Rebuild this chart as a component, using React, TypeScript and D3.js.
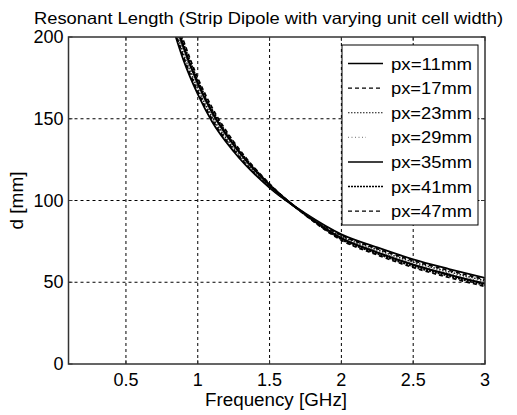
import React from "react";
import * as d3 from "d3";

const title = "Resonant Length (Strip Dipole with varying unit cell width)";
const xLabel = "Frequency [GHz]";
const yLabel = "d [mm]";
const xTicks = [0.5, 1, 1.5, 2, 2.5, 3];
const yTicks = [0, 50, 100, 150, 200];
const freq = [0.8, 0.9, 1.0, 1.1, 1.25, 1.5, 1.75, 2.0, 2.25, 2.5, 2.75, 3.0];
const seriesNames = ["px=11mm", "px=17mm", "px=23mm", "px=29mm", "px=35mm", "px=41mm", "px=47mm"];
const px11 = [213.5, 186, 165, 148.2, 130, 107.8, 92, 79.3, 71.3, 64, 58.1, 52.6];
const px17 = [215.7, 188, 166.7, 149.6, 131, 108.2, 91.8, 78.7, 70.5, 63.2, 57.2, 51.7];
const px23 = [217.8, 190, 168.3, 151.1, 132, 108.6, 91.7, 78.1, 69.8, 62.3, 56.4, 50.9];
const px29 = [220, 192, 170, 152.5, 133, 109, 91.5, 77.5, 69, 61.5, 55.5, 50];
const px35 = [222.2, 194, 171.7, 153.9, 134, 109.4, 91.3, 76.9, 68.2, 60.7, 54.6, 49.1];
const px41 = [224.3, 196, 173.3, 155.4, 135, 109.8, 91.2, 76.3, 67.5, 59.8, 53.8, 48.3];
const px47 = [226.5, 198, 175, 156.8, 136, 110.2, 91, 75.7, 66.7, 59, 52.9, 47.4];
const seriesValues = [px11, px17, px23, px29, px35, px41, px47];

const styles = [
  { w: 1.8, dash: "", color: "#000" },
  { w: 1.7, dash: "4,3", color: "#000" },
  { w: 1.5, dash: "1.5,1.5", color: "#111" },
  { w: 1.4, dash: "1,2.5", color: "#666" },
  { w: 2.2, dash: "", color: "#000" },
  { w: 2, dash: "2,1", color: "#000" },
  { w: 1.7, dash: "4,3", color: "#000" },
];

const FONT = "'Liberation Sans', Arial, Helvetica, sans-serif";

export default function App() {
  const W = 517, H = 415;
  const left = 68.5, right = 485, top = 37, bottom = 364;
  const x = d3.scaleLinear().domain([0.1, 3]).range([left, right]);
  const y = d3.scaleLinear().domain([0, 200]).range([bottom, top]);
  const line = d3
    .line<[number, number]>()
    .x((d) => x(d[0]))
    .y((d) => y(d[1]))
    .curve(d3.curveMonotoneX);

  const legX = 342, legY = 45, legW = 136, legH = 180;
  const rowY = (i: number) => 63.5 + i * 24.6;

  return (
    <svg
      width={W}
      height={H}
      style={{ position: "absolute", left: 0, top: 0, background: "#fff" }}
      fontFamily={FONT}
    >
      <rect x={0} y={0} width={W} height={H} fill="#fff" />
      <defs>
        <clipPath id="plotclip">
          <rect x={left} y={top} width={right - left} height={bottom - top} />
        </clipPath>
      </defs>
      {/* grid */}
      {xTicks.filter((t) => t < 3).map((t) => (
        <line key={"gx" + t} x1={x(t)} x2={x(t)} y1={top} y2={bottom} stroke="#000" strokeWidth={1} strokeDasharray="3,3" />
      ))}
      {yTicks.filter((t) => t > 0 && t < 200).map((t) => (
        <line key={"gy" + t} x1={left} x2={right} y1={y(t)} y2={y(t)} stroke="#000" strokeWidth={1} strokeDasharray="3,3" />
      ))}
      {/* curves */}
      <g clipPath="url(#plotclip)">
        {seriesValues.map((vals, i) => (
          <path
            key={seriesNames[i]}
            d={line(freq.map((f, j) => [f, vals[j]] as [number, number])) || ""}
            fill="none"
            stroke={styles[i].color}
            strokeWidth={styles[i].w}
            strokeDasharray={styles[i].dash}
          />
        ))}
      </g>
      {/* axes box */}
      <rect x={left} y={top} width={right - left} height={bottom - top} fill="none" stroke="#333" strokeWidth={1.5} />
      {xTicks.map((t) => (
        <g key={"tx" + t}>
          <line x1={x(t)} x2={x(t)} y1={bottom} y2={bottom - 4} stroke="#333" />
          <line x1={x(t)} x2={x(t)} y1={top} y2={top + 4} stroke="#333" />
          <text x={x(t)} y={bottom + 22} textAnchor="middle" fontSize={18} fill="#000">
            {String(t)}
          </text>
        </g>
      ))}
      {yTicks.map((t) => (
        <g key={"ty" + t}>
          <line x1={left} x2={left + 4} y1={y(t)} y2={y(t)} stroke="#333" />
          <line x1={right} x2={right - 4} y1={y(t)} y2={y(t)} stroke="#333" />
          <text x={left - 5} y={y(t) + 6} textAnchor="end" fontSize={18} fill="#000">
            {String(t)}
          </text>
        </g>
      ))}
      {/* labels */}
      <text x={205} y={406} fontSize={18} fill="#000" textLength={142} lengthAdjust="spacingAndGlyphs">
        {xLabel}
      </text>
      <text
        transform={`translate(23,${(top + bottom) / 2 + 29}) rotate(-90)`}
        fontSize={18}
        fill="#000"
        textLength={58}
        lengthAdjust="spacingAndGlyphs"
      >
        {yLabel}
      </text>
      <text x={34} y={24} fontSize={16.5} fill="#000" textLength={469} lengthAdjust="spacingAndGlyphs">
        {title}
      </text>
      {/* legend */}
      <rect x={legX} y={legY} width={legW} height={legH} fill="#fff" stroke="#000" strokeWidth={1} />
      {seriesNames.map((name, i) => (
        <g key={"lg" + name}>
          <line
            x1={348}
            x2={i === 3 ? 366 : 383}
            y1={rowY(i)}
            y2={rowY(i)}
            stroke={styles[i].color}
            strokeWidth={styles[i].w * 0.7}
            strokeDasharray={styles[i].dash}
          />
          <text x={391} y={rowY(i) + 6} fontSize={16.5} fill="#000" textLength={81} lengthAdjust="spacingAndGlyphs">
            {name}
          </text>
        </g>
      ))}
    </svg>
  );
}
